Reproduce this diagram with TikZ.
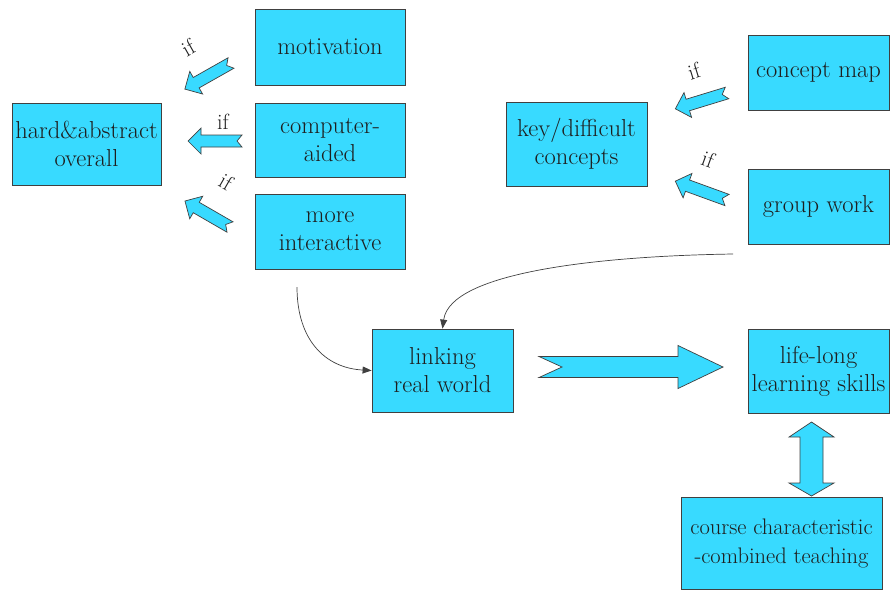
\documentclass[tikz,border=0pt]{standalone}
\usetikzlibrary{arrows.meta}
\definecolor{boxfill}{RGB}{56,218,255}
\definecolor{boxline}{RGB}{64,64,64}
\definecolor{txt}{RGB}{30,30,30}
\newcommand\myblockarr[7]{%
  \begin{scope}[shift={(#1)},rotate=#2]
    \draw[blockarrow] (#7,0) -- (0,#4) -- ({#3-#6},#4) -- ({#3-#6},#5) -- (#3,0)
      -- ({#3-#6},-#5) -- ({#3-#6},-#4) -- (0,-#4) -- cycle;
  \end{scope}}
\begin{document}
\begin{tikzpicture}[x=1pt,y=-1pt,
  box/.style={draw=boxline,fill=boxfill,line width=0.8pt,inner sep=0pt,align=center,
    text=txt,font=\fontsize{24.5}{28}\selectfont},
  blockarrow/.style={draw=boxline,fill=boxfill,line width=0.7pt,line join=miter},
  iflabel/.style={text=txt,font=\fontsize{22}{24}\selectfont,inner sep=0pt},
  conn/.style={draw=boxline,line width=0.7pt,-{Triangle[length=9pt,width=7pt]}}]
\useasboundingbox (0,0) rectangle (890,590);
% boxes
\node[box,minimum width=150,minimum height=76] (mot) at (330,47) {motivation};
\node[box,minimum width=150,minimum height=74] (comp) at (330,140) {computer-\\aided};
\node[box,minimum width=150,minimum height=75] (inter) at (330,231.5) {more\\interactive};
\node[box,minimum width=149,minimum height=82] (hard) at (86.5,144) {hard\&abstract\\overall};
\node[box,minimum width=141,minimum height=84] (key) at (576.5,144) {key/difficult\\concepts};
\node[box,minimum width=141,minimum height=75] (cmap) at (818.5,72.5) {concept map};
\node[box,minimum width=141,minimum height=75] (group) at (818.5,206.5) {group work};
\node[box,minimum width=141,minimum height=83] (link) at (442.5,370.5) {linking\\real world};
\node[box,minimum width=141,minimum height=84] (life) at (818.5,371) {life-long\\learning skills};
\node[box,minimum width=201,minimum height=92,font=\fontsize{22.5}{29}\selectfont] (course) at (781.5,543) {course characteristic\\-combined teaching};
% small block arrows
\coordinate (a1) at (231,63);
\coordinate (a2) at (242,141);
\coordinate (a3) at (230,227);
\coordinate (a4) at (727,93);
\coordinate (a5) at (727,200);
\myblockarr{a1}{209.5}{53}{6}{13}{13}{5}
\myblockarr{a2}{180}{54}{6}{13}{13}{5}
\myblockarr{a3}{150}{52}{6}{13}{13}{5}
\myblockarr{a4}{197}{54}{6}{13}{13}{5}
\myblockarr{a5}{160}{55}{6}{13}{13}{5}
% if labels
\node[iflabel,rotate=29.5] (l1) at (188,48) {if};
\node[iflabel] (l2) at (223,122) {if};
\node[iflabel,rotate=-30] (l3) at (226,182) {if};
\node[iflabel,rotate=17] (l4) at (694,71) {if};
\node[iflabel,rotate=-20] (l5) at (708,159) {if};
% big arrow
\coordinate (b1) at (539,367);
\myblockarr{b1}{0}{184}{10.5}{21.5}{45}{23}
% double arrow
\draw[blockarrow] (811.5,422) -- (834,437) -- (823,437) -- (823,483) -- (834,483) -- (811.5,496)
  -- (789,483) -- (800,483) -- (800,437) -- (789,437) -- cycle;
% curved connectors
\coordinate (c1) at (297,287);
\coordinate (c2) at (733,254);
\draw[conn] (c1) .. controls (297,340) and (325,368) .. (link.west);
\draw[conn] (c2) .. controls (600,256) and (450,272) .. (link.north);
\end{tikzpicture}
\end{document}
